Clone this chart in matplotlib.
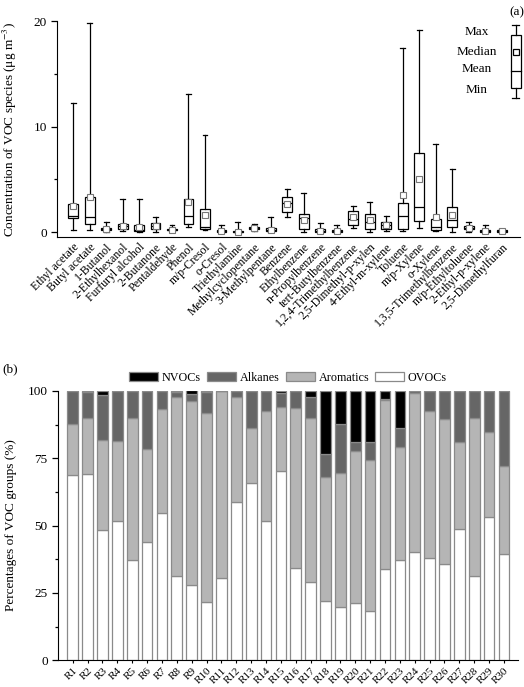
import matplotlib
matplotlib.use('Agg')
import matplotlib.pyplot as plt
from matplotlib.ticker import MultipleLocator
import numpy as np

plt.rcParams['font.family'] = ['Liberation Serif', 'DejaVu Serif']
plt.rcParams['mathtext.fontset'] = 'stix'
plt.rcParams['font.size'] = 9.5

# (a) VOC species concentrations (ug m-3)
species = ['Ethyl acetate', 'Butyl acetate', '1-Butanol', '2-Ethylhexanol',
           'Furfuryl alcohol', '2-Butanone', 'Pentaldehyde', 'Phenol',
           'm/p-Cresol', 'o-Cresol', 'Triethylamine', 'Methylcyclopentane',
           '3-Methylpentane', 'Benzene', 'Ethylbenzene', 'n-Propylbenzene',
           'tert-Butylbenzene', '1,2,4-Trimethylbenzene', '2,5-Dimethyl-p-xylen',
           '4-Ethyl-m-xylene', 'Toluene', 'm/p-Xylene', 'o-Xylene',
           '1,3,5-Trimethylbenzene', 'm/p-Ethyltoluene', '2-Ethyl-p-xylene',
           '2,5-Dimethylfuran']
conc_min = [0.2, 0.2, 0.0, 0.1, 0.05, 0.05, 0.05, 0.5, 0.2, 0.0, 0.0, 0.1, 0.05,
            1.4, 0.0, 0.0, 0.0, 0.35, 0.0, 0.1, 0.1, 0.35, 0.1, 0.05, 0.05, 0.0, 0.0]
conc_q1 = [1.3, 0.73, 0.2, 0.25, 0.12, 0.3, 0.15, 0.75, 0.25, 0.05, 0.02, 0.25, 0.1,
           1.9, 0.25, 0.05, 0.05, 0.7, 0.25, 0.25, 0.25, 1.05, 0.2, 0.5, 0.25, 0.05, 0.02]
conc_med = [1.5, 1.4, 0.3, 0.55, 0.2, 0.6, 0.2, 1.55, 0.5, 0.1, 0.05, 0.38, 0.2,
            2.75, 1.3, 0.12, 0.12, 1.2, 1.0, 0.65, 1.5, 2.35, 0.45, 1.1, 0.4, 0.1, 0.08]
conc_q3 = [2.7, 3.3, 0.4, 0.75, 0.65, 0.85, 0.3, 3.1, 2.15, 0.15, 0.1, 0.5, 0.4,
           3.3, 1.75, 0.25, 0.2, 2.0, 1.75, 1.0, 2.75, 7.5, 1.2, 2.35, 0.6, 0.15, 0.15]
conc_max = [12.2, 19.8, 1.0, 3.1, 3.15, 1.45, 0.7, 13.1, 9.2, 0.65, 1.0, 0.8, 1.45,
            4.05, 3.7, 0.9, 0.65, 2.5, 2.9, 1.5, 17.5, 19.15, 8.35, 5.95, 1.0, 0.65, 0.25]
conc_mean = [2.45, 3.3, 0.3, 0.55, 0.45, 0.6, 0.2, 2.85, 1.6, 0.1, 0.05, 0.38, 0.2,
             2.7, 1.15, 0.12, 0.12, 1.4, 1.15, 0.65, 3.5, 5.0, 1.45, 1.6, 0.4, 0.1, 0.08]

# (b) VOC group percentages per site
sites = ['R%d' % i for i in range(1, 31)]
ovocs = [68.8, 69.0, 48.3, 51.8, 37.2, 44.0, 54.5, 31.2, 27.9, 21.6, 30.7, 58.6, 65.7,
         51.8, 70.4, 34.4, 29.1, 21.8, 19.6, 21.1, 18.3, 33.8, 37.3, 40.3, 37.9, 35.6,
         48.7, 31.2, 53.3, 39.3]
aromatics = [18.8, 20.8, 33.5, 29.7, 52.9, 34.3, 38.8, 66.7, 68.5, 70.1, 69.3, 39.0,
             20.7, 40.9, 23.8, 59.4, 60.7, 46.2, 49.8, 56.7, 56.2, 62.9, 41.8, 58.8,
             54.8, 54.0, 32.5, 58.6, 31.3, 32.7]
alkanes = [12.4, 9.9, 16.5, 18.5, 9.9, 21.7, 6.7, 1.8, 2.4, 7.8, 0.0, 2.4, 13.6, 7.3,
           5.2, 6.2, 7.8, 8.5, 18.3, 3.4, 6.7, 0.3, 7.3, 0.9, 7.3, 10.4, 18.8, 10.2,
           15.4, 28.0]
nvocs = [0.0, 0.3, 1.7, 0.0, 0.0, 0.0, 0.0, 0.3, 1.4, 0.6, 0.0, 0.0, 0.0, 0.0, 0.6,
         0.0, 2.4, 23.5, 12.3, 18.8, 18.8, 3.0, 13.6, 0.0, 0.0, 0.0, 0.0, 0.0, 0.0, 0.0]

fig = plt.figure(figsize=(5.24, 6.87), dpi=100)

# ---------- panel (a) ----------
ax1 = fig.add_axes([0.109, 0.655, 0.883, 0.314])
stats = []
for i in range(len(species)):
    stats.append({'whislo': conc_min[i], 'q1': conc_q1[i], 'med': conc_med[i],
                  'q3': conc_q3[i], 'whishi': conc_max[i], 'mean': conc_mean[i],
                  'fliers': [], 'label': species[i]})
pos = np.arange(1, len(species) + 1)
ax1.bxp(stats, positions=pos, widths=0.6, capwidths=0.3, showmeans=True,
        showfliers=False, patch_artist=True,
        boxprops=dict(facecolor='white', edgecolor='black', linewidth=0.9),
        medianprops=dict(color='black', linewidth=0.9),
        whiskerprops=dict(color='black', linewidth=0.9),
        capprops=dict(color='black', linewidth=0.9),
        meanprops=dict(marker='s', markersize=3.8, markerfacecolor='white',
                       markeredgecolor='#777777', markeredgewidth=0.8))
ax1.set_xlim(0.03, 28.1)
ax1.set_ylim(-0.47, 20)
ax1.set_xticks(pos)
ax1.set_xticklabels(species, rotation=45, ha='right', rotation_mode='anchor', fontsize=8.5)
ax1.tick_params(axis='x', length=0, pad=3)
ax1.yaxis.set_major_locator(MultipleLocator(10))
ax1.yaxis.set_minor_locator(MultipleLocator(5))
ax1.tick_params(axis='y', which='major', length=4, width=0.9)
ax1.tick_params(axis='y', which='minor', length=2.5, width=0.9)
ax1.spines['top'].set_visible(False)
ax1.spines['right'].set_visible(False)
ax1.set_ylabel('Concentration of VOC species (μg m$^{-3}$)', labelpad=10)

# legend glyph for the box plot
gx, gw = 0.991, 0.0216
ax1.plot([gx, gx], [0.981, 0.935], color='black', lw=0.9, transform=ax1.transAxes, clip_on=False)
ax1.plot([gx, gx], [0.690, 0.644], color='black', lw=0.9, transform=ax1.transAxes, clip_on=False)
ax1.plot([gx - 0.007, gx + 0.007], [0.981, 0.981], color='black', lw=0.9, transform=ax1.transAxes, clip_on=False)
ax1.plot([gx - 0.007, gx + 0.007], [0.644, 0.644], color='black', lw=0.9, transform=ax1.transAxes, clip_on=False)
ax1.add_patch(plt.Rectangle((gx - gw / 2, 0.690), gw, 0.245, facecolor='white',
                            edgecolor='black', lw=0.9, transform=ax1.transAxes, clip_on=False))
ax1.plot([gx - gw / 2, gx + gw / 2], [0.769, 0.769], color='black', lw=0.9, transform=ax1.transAxes, clip_on=False)
ax1.plot([gx], [0.856], marker='s', markersize=5, markerfacecolor='white', markeredgecolor='black',
         markeredgewidth=0.9, transform=ax1.transAxes, clip_on=False)
for txt, yy in [('Max', 0.949), ('Median', 0.856), ('Mean', 0.778), ('Min', 0.681)]:
    ax1.text(0.907, yy, txt, ha='center', va='center', transform=ax1.transAxes)
fig.text(0.987, 0.991, '(a)', ha='center', va='top')

# ---------- panel (b) ----------
ax2 = fig.add_axes([0.111, 0.039, 0.878, 0.392])
x = np.arange(1, len(sites) + 1)
ovocs = np.array(ovocs)
aromatics = np.array(aromatics)
alkanes = np.array(alkanes)
nvocs = np.array(nvocs)
edge = '#8a8a8a'
ax2.bar(x, ovocs, width=0.72, color='white', edgecolor=edge, linewidth=0.9, label='OVOCs')
ax2.bar(x, aromatics, width=0.72, bottom=ovocs, color='#b5b5b5', edgecolor=edge,
        linewidth=0.9, label='Aromatics')
ax2.bar(x, alkanes, width=0.72, bottom=ovocs + aromatics, color='#666666', edgecolor=edge,
        linewidth=0.9, label='Alkanes')
ax2.bar(x, nvocs, width=0.72, bottom=ovocs + aromatics + alkanes, color='black',
        edgecolor=edge, linewidth=0.9, label='NVOCs')
ax2.set_xlim(0.02, 30.96)
ax2.set_ylim(0, 100)
ax2.set_xticks(x)
ax2.set_xticklabels(sites, rotation=45, ha='right', rotation_mode='anchor', fontsize=8)
ax2.tick_params(axis='x', length=2, pad=2)
ax2.yaxis.set_major_locator(MultipleLocator(25))
ax2.yaxis.set_minor_locator(MultipleLocator(12.5))
ax2.tick_params(axis='y', which='major', length=4, width=0.9)
ax2.tick_params(axis='y', which='minor', length=2.5, width=0.9)
ax2.spines['top'].set_visible(False)
ax2.spines['right'].set_visible(False)
ax2.set_ylabel('Percentages of VOC groups (%)', labelpad=8)
h, l = ax2.get_legend_handles_labels()
ax2.legend(h[::-1], l[::-1], ncol=4, frameon=False, loc='lower center',
           bbox_to_anchor=(0.5, 1.0), handlelength=2.4, handleheight=0.85,
           handletextpad=0.3, columnspacing=0.5, borderaxespad=0.2, fontsize=8.7)
fig.text(0.005, 0.463, '(b)', ha='left', va='center')

fig.savefig('out.png', dpi=100)
